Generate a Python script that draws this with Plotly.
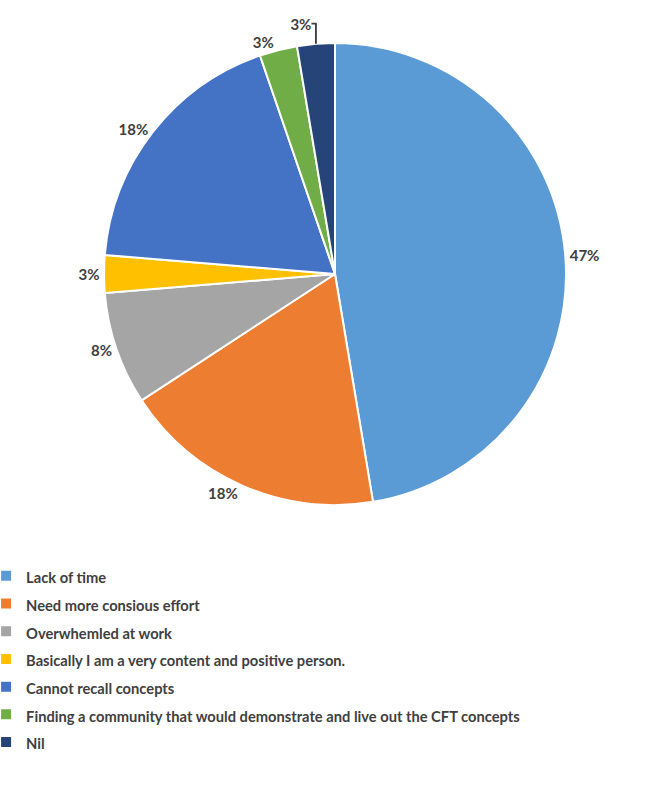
import plotly.graph_objects as go

categories = [
    "Lack of time",
    "Need more consious effort",
    "Overwhemled at work",
    "Basically I am a very content and positive person.",
    "Cannot recall concepts",
    "Finding a community that would demonstrate and live out the CFT concepts",
    "Nil",
]
counts = [18, 7, 3, 1, 7, 1, 1]
colors = ["#5B9BD5", "#ED7D31", "#A5A5A5", "#FFC000", "#4472C4", "#70AD47", "#264478"]

W, H = 662, 791
cx, cy, r = 335, 274, 231

fig = go.Figure(go.Pie(
    labels=[f"<span style='font-size:14.7px'>{c}</span>" for c in categories],
    values=counts,
    sort=False,
    direction="clockwise",
    rotation=0,
    marker=dict(colors=colors, line=dict(color="white", width=2)),
    textposition="outside",
    texttemplate="%{percent:.0%}",
    textfont=dict(family="Lato", size=15, color="#404040", weight="bold"),
    domain=dict(x=[(cx - r) / W, (cx + r) / W], y=[1 - (cy + r) / H, 1 - (cy - r) / H]),
    showlegend=True,
    hoverinfo="label+percent",
))

fig.update_layout(
    width=W, height=H,
    margin=dict(l=0, r=0, t=0, b=0, autoexpand=False),
    paper_bgcolor="white",
    plot_bgcolor="white",
    legend=dict(
        orientation="v",
        x=-0.021, xanchor="left",
        y=1 - 557 / H, yanchor="top",
        font=dict(family="Lato", size=19, color="#404040", weight="bold"),
        bgcolor="rgba(0,0,0,0)",
    ),
)

fig.write_html("out.html")
